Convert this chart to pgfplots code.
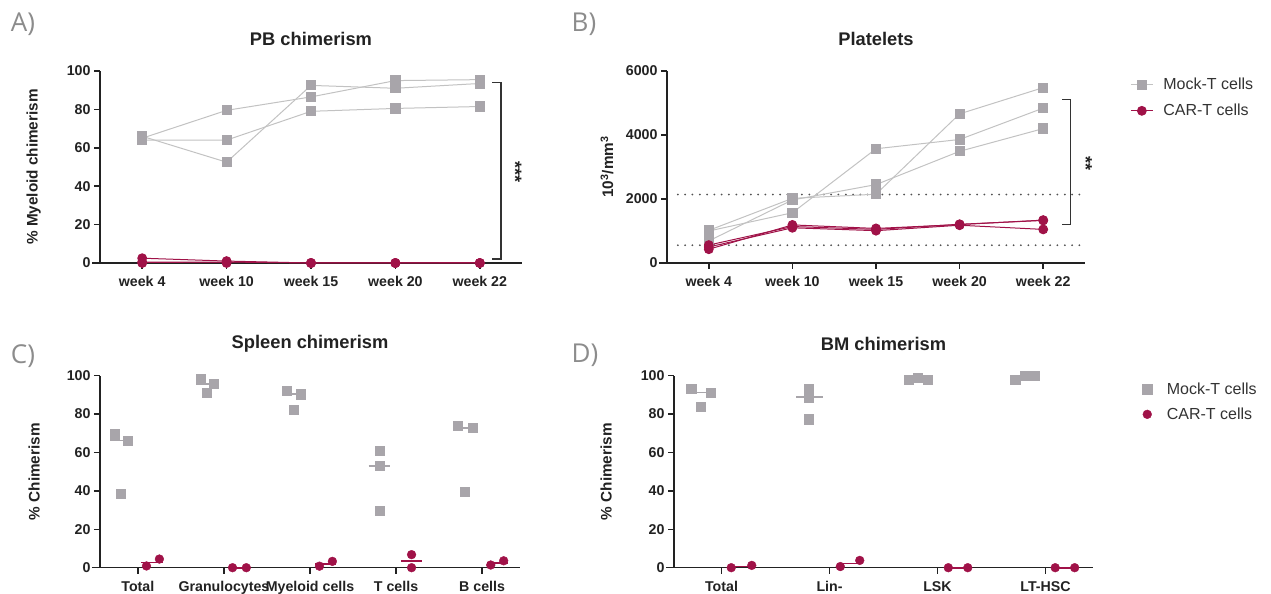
\documentclass[border=0pt]{standalone}
\usepackage{fontspec}
\setmainfont{Liberation Sans}
\newfontfamily\letterfont{Open Sans}
\usepackage{pgfplots}
\pgfplotsset{compat=1.18}
\definecolor{mockm}{HTML}{A8A5AA}
\definecolor{mockl}{HTML}{C2C2C2}
\definecolor{car}{HTML}{A01248}
\definecolor{axc}{HTML}{222222}
\definecolor{txt}{HTML}{333333}
\pgfplotsset{
 base/.style={
   scale only axis, clip=false,
   axis lines=left,
   axis line style={-, line width=1.5pt, color=axc},
   tick align=outside, major tick length=6pt,
   tick style={line width=1.5pt, color=axc},
   ticklabel style={font=\bfseries\fontsize{14.2}{15}\selectfont, color=axc},
   xticklabel style={yshift=-4pt},
   /pgf/number format/assume math mode=true,
   /pgf/number format/1000 sep={},
   label style={font=\bfseries\fontsize{15.3}{16}\selectfont, color=axc},
   title style={font=\bfseries\fontsize{18.3}{19}\selectfont, color=axc, at={(axis description cs:0.5,1)}, anchor=center, yshift=26pt},
   enlargelimits=false,
   extra description/.code={\draw[color=axc, line width=1.5pt] ([xshift=-8pt]rel axis cs:0,0) -- (rel axis cs:0,0);},
 },
 mock/.style={color=mockl, line width=1pt, mark=square*, mark size=4.6pt, mark options={fill=mockm, draw=mockm, solid}},
 carl/.style={color=car, line width=1pt, mark=*, mark size=4.4pt, mark options={fill=car, draw=car, solid}},
 mockd/.style={only marks, mark=square*, mark size=4.6pt, color=mockm, mark options={fill=mockm, draw=mockm}},
 card/.style={only marks, mark=*, mark size=4.4pt, color=car, mark options={fill=car, draw=car}},
 medm/.style={color=mockm, line width=1.8pt, forget plot},
 medc/.style={color=car, line width=1.8pt, forget plot},
 dots/.style={line cap=round, dash pattern=on 0pt off 7.3pt, line width=2pt, color=txt!85, forget plot},
}
\begin{document}
\begin{tikzpicture}[x=1pt,y=1pt]
\useasboundingbox (0,0) rectangle (1271,594);
\node[font=\letterfont\fontsize{26}{26}\selectfont, color=gray!90] at (23,570) {A)};
\node[font=\letterfont\fontsize{26}{26}\selectfont, color=gray!90] at (584,570) {B)};
\node[font=\letterfont\fontsize{26}{26}\selectfont, color=gray!90] at (23,238) {C)};
\node[font=\letterfont\fontsize{26}{26}\selectfont, color=gray!90] at (585,239) {D)};

% ---------------- A
\begin{axis}[base, at={(100pt,331pt)}, anchor=south west, width=422pt, height=192pt,
  xmin=-0.5, xmax=4.5, ymin=0, ymax=100, ytick={0,20,...,100},
  xtick={0,...,4}, xticklabels={week 4,week 10,week 15,week 20,week 22},
  title={PB chimerism},
  ylabel={\% Myeloid chimerism},
  ylabel style={at={(axis description cs:-0.157,0.5)}, anchor=center}]
\addplot[mock] coordinates {(0,65)(1,79.5)(2,86.5)(3,95)(4,95.5)};
\addplot[mock] coordinates {(0,64)(1,64)(2,79)(3,80.5)(4,81.5)};
\addplot[mock] coordinates {(0,66)(1,52.5)(2,92.5)(3,91)(4,93.5)};
\addplot[carl] coordinates {(0,2.5)(1,1)(2,0)(3,0)(4,0)};
\addplot[carl] coordinates {(0,0.5)(1,0.5)(2,0)(3,0)(4,0)};
\addplot[carl] coordinates {(0,0)(1,0)(2,0)(3,0)(4,0)};
\draw[color=txt, line width=1.2pt] (axis cs:4.15,93.9) -- (axis cs:4.25,93.9) -- (axis cs:4.25,2.1) -- (axis cs:4.15,2.1);
\node[rotate=-90, font=\bfseries\fontsize{18}{18}\selectfont, color=axc] at (axis cs:4.42,47.5) {***};
\end{axis}

% ---------------- B
\begin{axis}[base, at={(667pt,331pt)}, anchor=south west, width=418pt, height=192pt,
  xmin=-0.5, xmax=4.5, ymin=0, ymax=6000, ytick={0,2000,4000,6000},
  xtick={0,...,4}, xticklabels={week 4,week 10,week 15,week 20,week 22},
  title={Platelets},
  ylabel={10\textsuperscript{3}/mm\textsuperscript{3}},
  ylabel style={at={(axis description cs:-0.1435,0.5)}, anchor=center},
  legend style={at={(axis description cs:1.108,0.974)}, anchor=north west, draw=none, fill=none,
    font=\fontsize{16}{18}\selectfont, text=txt, row sep=9pt, column sep=8pt, inner sep=0pt},
  legend cell align=left,
  legend image code/.code={\draw[mark repeat=2,mark phase=2,#1] plot coordinates {(0pt,0pt)(11pt,0pt)(22pt,0pt)};}]
\addplot[dots] coordinates {(-0.37,2140)(4.45,2140)};
\addplot[dots] coordinates {(-0.37,555)(4.45,555)};
\addplot[mock] coordinates {(0,1000)(1,1570)(2,3570)(3,3860)(4,4840)};
\addlegendentry{Mock-T cells}
\addplot[mock, forget plot] coordinates {(0,1020)(1,2020)(2,2150)(3,4660)(4,5480)};
\addplot[mock, forget plot] coordinates {(0,690)(1,1970)(2,2450)(3,3490)(4,4200)};
\addplot[carl] coordinates {(0,430)(1,1190)(2,1080)(3,1200)(4,1340)};
\addlegendentry{CAR-T cells}
\addplot[carl, forget plot] coordinates {(0,500)(1,1100)(2,1010)(3,1180)(4,1050)};
\addplot[carl, forget plot] coordinates {(0,560)(1,1140)(2,1050)(3,1210)(4,1330)};
\draw[color=txt, line width=1.2pt] (axis cs:4.23,5120) -- (axis cs:4.33,5120) -- (axis cs:4.33,1203) -- (axis cs:4.23,1203);
\node[rotate=-90, font=\bfseries\fontsize{18}{18}\selectfont, color=axc] at (axis cs:4.51,3100) {**};
\end{axis}

% ---------------- C
\begin{axis}[base, at={(100pt,26.3pt)}, anchor=south west, width=420pt, height=192pt,
  xmin=-0.44, xmax=4.44, ymin=0, ymax=100, ytick={0,20,...,100},
  xtick={0,...,4}, xticklabels={Total,Granulocytes,Myeloid cells,T cells,B cells},
  title={Spleen chimerism},
  ylabel={\% Chimerism},
  ylabel style={at={(axis description cs:-0.157,0.5)}, anchor=center}]
\addplot[mockd] coordinates {(-0.27,69.5)(-0.12,66.3)(-0.2,38.5)
  (0.73,98.5)(0.8,91)(0.88,95.7)
  (1.73,92.3)(1.81,82.3)(1.89,90.4)
  (2.81,60.8)(2.81,53)(2.81,29.7)
  (3.72,74.1)(3.89,72.9)(3.8,39.4)};
\addplot[medm] coordinates {(-0.32,66.3)(-0.08,66.3)};
\addplot[medm] coordinates {(0.68,95.7)(0.92,95.7)};
\addplot[medm] coordinates {(1.68,90.4)(1.92,90.4)};
\addplot[medm] coordinates {(2.68,53)(2.93,53)};
\addplot[medm] coordinates {(3.68,72.9)(3.92,72.9)};
\addplot[card] coordinates {(0.1,0.9)(0.25,4.5)(1.1,0)(1.26,0)(2.11,0.8)(2.26,3.3)(3.18,6.8)(3.18,0)(4.1,1.4)(4.25,3.6)};
\addplot[medc] coordinates {(0.04,2.7)(0.29,2.7)};
\addplot[medc] coordinates {(1.06,0)(1.3,0)};
\addplot[medc] coordinates {(2.06,2.0)(2.3,2.0)};
\addplot[medc] coordinates {(3.06,3.4)(3.3,3.4)};
\addplot[medc] coordinates {(4.06,2.5)(4.3,2.5)};
\end{axis}

% ---------------- D
\begin{axis}[base, at={(674pt,26.3pt)}, anchor=south west, width=419pt, height=192pt,
  xmin=-0.44, xmax=3.44, ymin=0, ymax=100, ytick={0,20,...,100},
  xtick={0,...,3}, xticklabels={Total,Lin-,LSK,LT-HSC},
  title={BM chimerism},
  ylabel={\% Chimerism},
  ylabel style={at={(axis description cs:-0.162,0.5)}, anchor=center},
  legend style={at={(axis description cs:1.118,0.975)}, anchor=north west, draw=none, fill=none,
    font=\fontsize{16}{18}\selectfont, text=txt, row sep=8pt, column sep=13pt, inner sep=0pt},
  legend cell align=left,
  legend image code/.code={\draw[#1] plot coordinates {(0pt,0pt)};}]
\addplot[mockd] coordinates {(-0.28,93.4)(-0.19,83.9)(-0.1,91.3)
  (0.81,93.1)(0.81,88.8)(0.81,77.3)
  (1.73,97.9)(1.82,99.1)(1.91,97.9)
  (2.72,97.9)(2.81,99.8)(2.9,99.8)};
\addlegendentry{Mock-T cells}
\addplot[medm] coordinates {(-0.32,91.3)(-0.08,91.3)};
\addplot[medm] coordinates {(0.69,88.8)(0.94,88.8)};
\addplot[medm] coordinates {(1.69,97.9)(1.94,97.9)};
\addplot[medm] coordinates {(2.69,99.8)(2.94,99.8)};
\addplot[card] coordinates {(0.09,0)(0.28,1.2)(1.1,0.6)(1.28,3.8)(2.1,0)(2.28,0)(3.09,0)(3.27,0)};
\addlegendentry{CAR-T cells}
\addplot[medc] coordinates {(0.09,0.6)(0.28,0.6)};
\addplot[medc] coordinates {(1.1,2.2)(1.28,2.2)};
\addplot[medc] coordinates {(2.1,0)(2.28,0)};
\addplot[medc] coordinates {(3.09,0)(3.27,0)};
\end{axis}
\end{tikzpicture}
\end{document}
